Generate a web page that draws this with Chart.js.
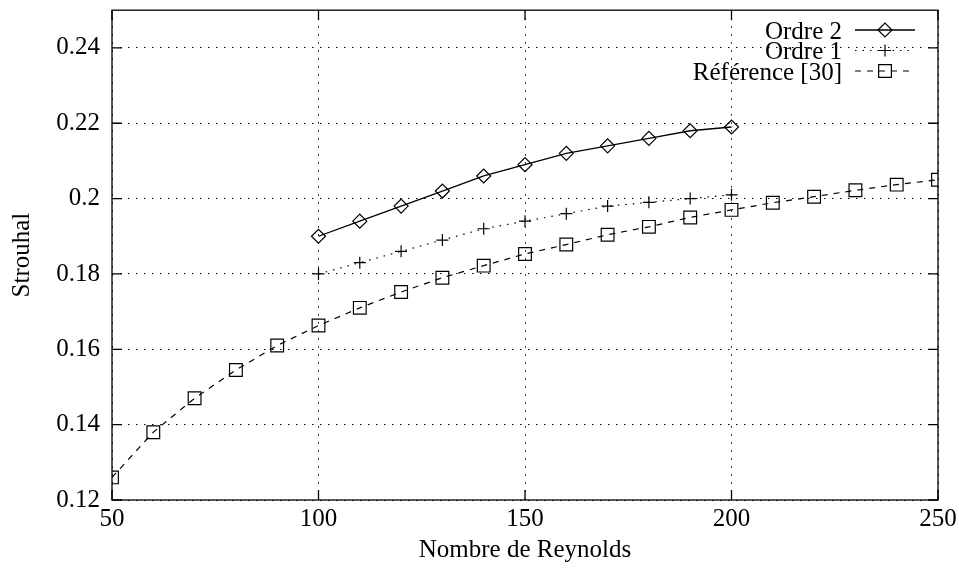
<!DOCTYPE html>
<html>
<head>
<meta charset="utf-8">
<script src="https://cdn.jsdelivr.net/npm/chart.js@4.4.0/dist/chart.umd.min.js"></script>
<style>
  html, body { margin: 0; padding: 0; background: #fff; }
  #wrap { width: 959px; height: 570px; }
</style>
</head>
<body>
<div id="wrap"><canvas id="strouhalChart" width="959" height="570"></canvas></div>
<script>
// Reynolds numbers and Strouhal values
var reOrdre2 = [100, 110, 120, 130, 140, 150, 160, 170, 180, 190, 200];
var stOrdre2 = [0.190, 0.194, 0.198, 0.202, 0.206, 0.209, 0.212, 0.214, 0.216, 0.218, 0.219];

var reOrdre1 = [100, 110, 120, 130, 140, 150, 160, 170, 180, 190, 200];
var stOrdre1 = [0.180, 0.183, 0.186, 0.189, 0.192, 0.194, 0.196, 0.198, 0.199, 0.200, 0.201];

var reRef = [50, 60, 70, 80, 90, 100, 110, 120, 130, 140, 150, 160, 170, 180, 190, 200, 210, 220, 230, 240, 250];
var stRef = [0.126, 0.138, 0.147, 0.1545, 0.161, 0.1663, 0.171, 0.1752, 0.179, 0.1822, 0.1853, 0.1878, 0.1904, 0.1925, 0.195, 0.197, 0.1989, 0.2005, 0.2022, 0.2037, 0.2050];

var xTicks = [50, 100, 150, 200, 250];
var yTicks = [0.12, 0.14, 0.16, 0.18, 0.2, 0.22, 0.24];

var labels = ["Ordre 2", "Ordre 1", "Référence [30]"];

var FONT = "'Liberation Serif', 'DejaVu Serif', serif";

function pts(xs, ys) {
    var out = [];
    for (var i = 0; i < xs.length; i++) out.push({x: xs[i], y: ys[i]});
    return out;
}

// frame with inward ticks on all four sides
var framePlugin = {
    id: 'frame',
    afterDatasetsDraw: function(chart) {
        var ctx = chart.ctx, a = chart.chartArea;
        var xs = chart.scales.x, ys = chart.scales.y;
        var len = 10;
        ctx.save();
        ctx.strokeStyle = '#000';
        ctx.lineWidth = 1.3;
        ctx.setLineDash([]);
        ctx.strokeRect(a.left, a.top, a.right - a.left, a.bottom - a.top);
        ctx.beginPath();
        xTicks.forEach(function(v) {
            var px = xs.getPixelForValue(v);
            ctx.moveTo(px, a.bottom); ctx.lineTo(px, a.bottom - len);
            ctx.moveTo(px, a.top); ctx.lineTo(px, a.top + len);
        });
        yTicks.forEach(function(v) {
            var py = ys.getPixelForValue(v);
            ctx.moveTo(a.left, py); ctx.lineTo(a.left + len, py);
            ctx.moveTo(a.right, py); ctx.lineTo(a.right - len, py);
        });
        ctx.stroke();
        ctx.restore();
    }
};

// gnuplot-like key: text on the left, sample on the right
var keyPlugin = {
    id: 'key',
    afterDatasetsDraw: function(chart) {
        var ctx = chart.ctx;
        var textRight = 842, x0 = 855, x1 = 915, y = 30, step = 20.5;
        ctx.save();
        ctx.font = "25px " + FONT;
        ctx.textAlign = 'right';
        ctx.textBaseline = 'middle';
        chart.data.datasets.forEach(function(ds, i) {
            var yy = y + i * step;
            ctx.fillStyle = '#000';
            ctx.fillText(ds.label, textRight, yy + 2);
            ctx.strokeStyle = ds.borderColor;
            ctx.lineWidth = ds.borderWidth;
            ctx.setLineDash(ds.borderDash || []);
            ctx.beginPath();
            ctx.moveTo(x0, yy); ctx.lineTo(x1, yy);
            ctx.stroke();
            ctx.setLineDash([]);
            ctx.lineWidth = ds.pointBorderWidth;
            ctx.fillStyle = 'rgba(0,0,0,0)';
            Chart.helpers.drawPoint(ctx, {
                pointStyle: ds.pointStyle, rotation: 0,
                radius: ds.pointRadius, borderWidth: ds.pointBorderWidth
            }, (x0 + x1) / 2, yy);
        });
        ctx.restore();
    }
};

var ctx = document.getElementById('strouhalChart');
var strouhalChart = new Chart(ctx, {
    type: 'line',
    data: {
        datasets: [
            {
                label: labels[0],
                data: pts(reOrdre2, stOrdre2),
                borderColor: '#000',
                borderWidth: 1.3,
                backgroundColor: 'rgba(0,0,0,0)',
                pointStyle: 'rectRot',
                pointRadius: 7,
                pointBorderWidth: 1.2,
                pointBorderColor: '#000',
                pointBackgroundColor: 'rgba(0,0,0,0)',
                fill: false,
                tension: 0
            },
            {
                label: labels[1],
                data: pts(reOrdre1, stOrdre1),
                borderColor: '#000',
                borderWidth: 1.2,
                borderDash: [1.5, 6],
                backgroundColor: 'rgba(0,0,0,0)',
                pointStyle: 'cross',
                pointRadius: 6,
                pointBorderWidth: 1.2,
                pointBorderColor: '#000',
                pointBackgroundColor: 'rgba(0,0,0,0)',
                fill: false,
                tension: 0
            },
            {
                label: labels[2],
                data: pts(reRef, stRef),
                borderColor: '#000',
                borderWidth: 1.2,
                borderDash: [6, 6],
                backgroundColor: 'rgba(0,0,0,0)',
                pointStyle: 'rect',
                pointRadius: 9,
                pointBorderWidth: 1.2,
                pointBorderColor: '#000',
                pointBackgroundColor: 'rgba(0,0,0,0)',
                fill: false,
                tension: 0
            }
        ]
    },
    options: {
        responsive: false,
        animation: false,
        layout: { padding: { top: 8, right: 21, left: 0, bottom: 0 } },
        plugins: {
            legend: { display: false },
            tooltip: { enabled: false }
        },
        scales: {
            x: {
                type: 'linear',
                min: 50,
                max: 250,
                afterBuildTicks: function(scale) {
                    scale.ticks = xTicks.map(function(v) { return {value: v}; });
                },
                afterFit: function(scale) {
                    scale.height = 70;
                    scale.paddingLeft = 0;
                    scale.paddingRight = 0;
                },
                ticks: {
                    color: '#000',
                    font: { family: FONT, size: 25 },
                    padding: 4,
                    maxRotation: 0
                },
                grid: {
                    color: '#000',
                    lineWidth: 1,
                    drawTicks: false
                },
                border: { display: false, dash: [1.5, 6.5] },
                title: {
                    display: true,
                    text: 'Nombre de Reynolds',
                    color: '#000',
                    font: { family: FONT, size: 25 },
                    padding: { top: 0, bottom: 5 }
                }
            },
            y: {
                type: 'linear',
                min: 0.12,
                max: 0.25,
                afterBuildTicks: function(scale) {
                    scale.ticks = yTicks.map(function(v) { return {value: v}; });
                },
                afterFit: function(scale) {
                    scale.width = 112;
                    scale.paddingTop = 0;
                    scale.paddingBottom = 0;
                },
                ticks: {
                    color: '#000',
                    font: { family: FONT, size: 25 },
                    padding: 12,
                    callback: function(v) { return String(Number(v.toFixed(2))); }
                },
                grid: {
                    color: '#000',
                    lineWidth: 1,
                    drawTicks: false
                },
                border: { display: false, dash: [1.5, 6.5] },
                title: {
                    display: true,
                    text: 'Strouhal',
                    color: '#000',
                    font: { family: FONT, size: 25 },
                    padding: { top: 7, bottom: 0 }
                }
            }
        }
    },
    plugins: [framePlugin, keyPlugin]
});
</script>
</body>
</html>
